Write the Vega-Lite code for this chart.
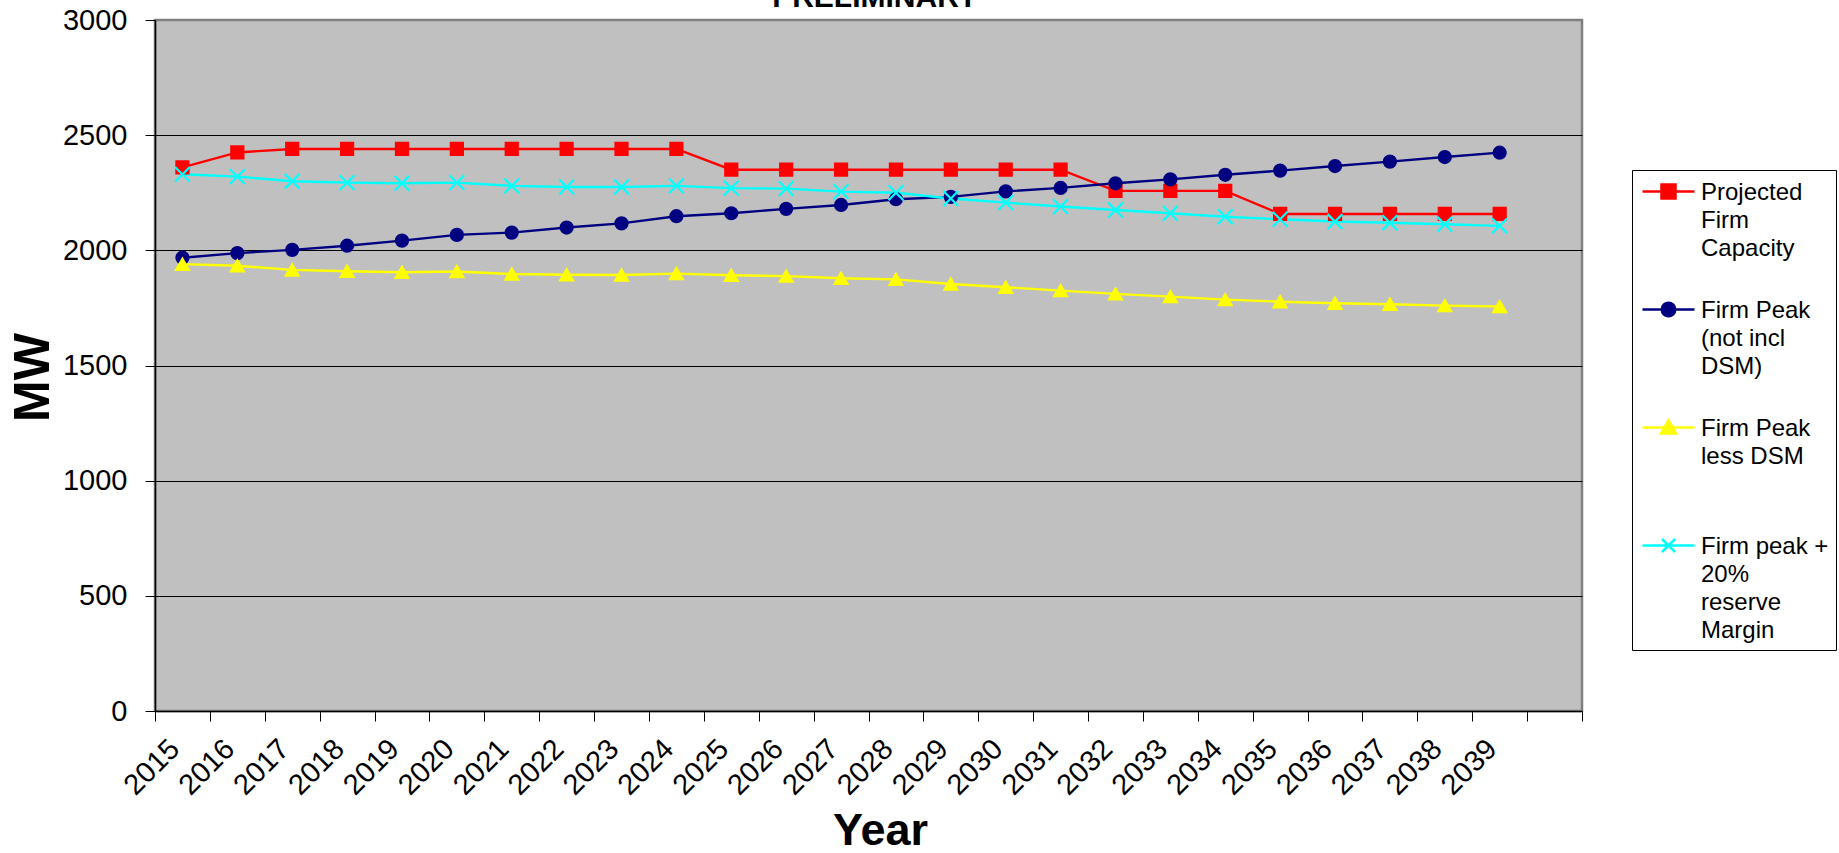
{
  "$schema": "https://vega.github.io/schema/vega-lite/v6.json",
  "autosize": "none",
  "width": 1427,
  "height": 691,
  "padding": {"left": 155, "top": 20, "right": 257, "bottom": 142},
  "background": "white",
  "config": {
    "view": {"fill": "#C0C0C0", "stroke": "#808080", "strokeWidth": 2.5},
    "font": "Liberation Sans"
  },
  "data": {
    "values": [
      {"year": "2015", "series": "Projected Firm Capacity", "mw": 2360},
      {"year": "2016", "series": "Projected Firm Capacity", "mw": 2425},
      {"year": "2017", "series": "Projected Firm Capacity", "mw": 2440},
      {"year": "2018", "series": "Projected Firm Capacity", "mw": 2440},
      {"year": "2019", "series": "Projected Firm Capacity", "mw": 2440},
      {"year": "2020", "series": "Projected Firm Capacity", "mw": 2440},
      {"year": "2021", "series": "Projected Firm Capacity", "mw": 2440},
      {"year": "2022", "series": "Projected Firm Capacity", "mw": 2440},
      {"year": "2023", "series": "Projected Firm Capacity", "mw": 2440},
      {"year": "2024", "series": "Projected Firm Capacity", "mw": 2440},
      {"year": "2025", "series": "Projected Firm Capacity", "mw": 2350},
      {"year": "2026", "series": "Projected Firm Capacity", "mw": 2350},
      {"year": "2027", "series": "Projected Firm Capacity", "mw": 2350},
      {"year": "2028", "series": "Projected Firm Capacity", "mw": 2350},
      {"year": "2029", "series": "Projected Firm Capacity", "mw": 2350},
      {"year": "2030", "series": "Projected Firm Capacity", "mw": 2350},
      {"year": "2031", "series": "Projected Firm Capacity", "mw": 2350},
      {"year": "2032", "series": "Projected Firm Capacity", "mw": 2258},
      {"year": "2033", "series": "Projected Firm Capacity", "mw": 2258},
      {"year": "2034", "series": "Projected Firm Capacity", "mw": 2258},
      {"year": "2035", "series": "Projected Firm Capacity", "mw": 2158},
      {"year": "2036", "series": "Projected Firm Capacity", "mw": 2158},
      {"year": "2037", "series": "Projected Firm Capacity", "mw": 2158},
      {"year": "2038", "series": "Projected Firm Capacity", "mw": 2158},
      {"year": "2039", "series": "Projected Firm Capacity", "mw": 2158},
      {"year": "2015", "series": "Firm Peak (not incl DSM)", "mw": 1968},
      {"year": "2016", "series": "Firm Peak (not incl DSM)", "mw": 1988},
      {"year": "2017", "series": "Firm Peak (not incl DSM)", "mw": 2002},
      {"year": "2018", "series": "Firm Peak (not incl DSM)", "mw": 2020},
      {"year": "2019", "series": "Firm Peak (not incl DSM)", "mw": 2042},
      {"year": "2020", "series": "Firm Peak (not incl DSM)", "mw": 2067},
      {"year": "2021", "series": "Firm Peak (not incl DSM)", "mw": 2077},
      {"year": "2022", "series": "Firm Peak (not incl DSM)", "mw": 2099},
      {"year": "2023", "series": "Firm Peak (not incl DSM)", "mw": 2117},
      {"year": "2024", "series": "Firm Peak (not incl DSM)", "mw": 2148},
      {"year": "2025", "series": "Firm Peak (not incl DSM)", "mw": 2161},
      {"year": "2026", "series": "Firm Peak (not incl DSM)", "mw": 2180},
      {"year": "2027", "series": "Firm Peak (not incl DSM)", "mw": 2197},
      {"year": "2028", "series": "Firm Peak (not incl DSM)", "mw": 2222},
      {"year": "2029", "series": "Firm Peak (not incl DSM)", "mw": 2232},
      {"year": "2030", "series": "Firm Peak (not incl DSM)", "mw": 2256},
      {"year": "2031", "series": "Firm Peak (not incl DSM)", "mw": 2271},
      {"year": "2032", "series": "Firm Peak (not incl DSM)", "mw": 2291},
      {"year": "2033", "series": "Firm Peak (not incl DSM)", "mw": 2308},
      {"year": "2034", "series": "Firm Peak (not incl DSM)", "mw": 2328},
      {"year": "2035", "series": "Firm Peak (not incl DSM)", "mw": 2346},
      {"year": "2036", "series": "Firm Peak (not incl DSM)", "mw": 2366},
      {"year": "2037", "series": "Firm Peak (not incl DSM)", "mw": 2385},
      {"year": "2038", "series": "Firm Peak (not incl DSM)", "mw": 2405},
      {"year": "2039", "series": "Firm Peak (not incl DSM)", "mw": 2424},
      {"year": "2015", "series": "Firm Peak less DSM", "mw": 1940},
      {"year": "2016", "series": "Firm Peak less DSM", "mw": 1933},
      {"year": "2017", "series": "Firm Peak less DSM", "mw": 1915},
      {"year": "2018", "series": "Firm Peak less DSM", "mw": 1909},
      {"year": "2019", "series": "Firm Peak less DSM", "mw": 1905},
      {"year": "2020", "series": "Firm Peak less DSM", "mw": 1908},
      {"year": "2021", "series": "Firm Peak less DSM", "mw": 1897},
      {"year": "2022", "series": "Firm Peak less DSM", "mw": 1894},
      {"year": "2023", "series": "Firm Peak less DSM", "mw": 1893},
      {"year": "2024", "series": "Firm Peak less DSM", "mw": 1899},
      {"year": "2025", "series": "Firm Peak less DSM", "mw": 1892},
      {"year": "2026", "series": "Firm Peak less DSM", "mw": 1888},
      {"year": "2027", "series": "Firm Peak less DSM", "mw": 1879},
      {"year": "2028", "series": "Firm Peak less DSM", "mw": 1874},
      {"year": "2029", "series": "Firm Peak less DSM", "mw": 1854},
      {"year": "2030", "series": "Firm Peak less DSM", "mw": 1840},
      {"year": "2031", "series": "Firm Peak less DSM", "mw": 1825},
      {"year": "2032", "series": "Firm Peak less DSM", "mw": 1811},
      {"year": "2033", "series": "Firm Peak less DSM", "mw": 1799},
      {"year": "2034", "series": "Firm Peak less DSM", "mw": 1786},
      {"year": "2035", "series": "Firm Peak less DSM", "mw": 1777},
      {"year": "2036", "series": "Firm Peak less DSM", "mw": 1770},
      {"year": "2037", "series": "Firm Peak less DSM", "mw": 1766},
      {"year": "2038", "series": "Firm Peak less DSM", "mw": 1760},
      {"year": "2039", "series": "Firm Peak less DSM", "mw": 1756},
      {"year": "2015", "series": "Firm peak + 20% reserve Margin", "mw": 2330},
      {"year": "2016", "series": "Firm peak + 20% reserve Margin", "mw": 2320},
      {"year": "2017", "series": "Firm peak + 20% reserve Margin", "mw": 2300},
      {"year": "2018", "series": "Firm peak + 20% reserve Margin", "mw": 2294},
      {"year": "2019", "series": "Firm peak + 20% reserve Margin", "mw": 2291},
      {"year": "2020", "series": "Firm peak + 20% reserve Margin", "mw": 2294},
      {"year": "2021", "series": "Firm peak + 20% reserve Margin", "mw": 2280},
      {"year": "2022", "series": "Firm peak + 20% reserve Margin", "mw": 2275},
      {"year": "2023", "series": "Firm peak + 20% reserve Margin", "mw": 2275},
      {"year": "2024", "series": "Firm peak + 20% reserve Margin", "mw": 2280},
      {"year": "2025", "series": "Firm peak + 20% reserve Margin", "mw": 2270},
      {"year": "2026", "series": "Firm peak + 20% reserve Margin", "mw": 2268},
      {"year": "2027", "series": "Firm peak + 20% reserve Margin", "mw": 2255},
      {"year": "2028", "series": "Firm peak + 20% reserve Margin", "mw": 2250},
      {"year": "2029", "series": "Firm peak + 20% reserve Margin", "mw": 2225},
      {"year": "2030", "series": "Firm peak + 20% reserve Margin", "mw": 2207},
      {"year": "2031", "series": "Firm peak + 20% reserve Margin", "mw": 2190},
      {"year": "2032", "series": "Firm peak + 20% reserve Margin", "mw": 2175},
      {"year": "2033", "series": "Firm peak + 20% reserve Margin", "mw": 2161},
      {"year": "2034", "series": "Firm peak + 20% reserve Margin", "mw": 2146},
      {"year": "2035", "series": "Firm peak + 20% reserve Margin", "mw": 2135},
      {"year": "2036", "series": "Firm peak + 20% reserve Margin", "mw": 2125},
      {"year": "2037", "series": "Firm peak + 20% reserve Margin", "mw": 2120},
      {"year": "2038", "series": "Firm peak + 20% reserve Margin", "mw": 2113},
      {"year": "2039", "series": "Firm peak + 20% reserve Margin", "mw": 2106}
    ]
  },
  "encoding": {
    "x": {
      "field": "year",
      "type": "ordinal",
      "title": "Year",
      "scale": {
        "type": "band",
        "paddingInner": 0,
        "paddingOuter": 0,
        "domain": ["2015","2016","2017","2018","2019","2020","2021","2022","2023","2024","2025","2026","2027","2028","2029","2030","2031","2032","2033","2034","2035","2036","2037","2038","2039","2040"]
      },
      "axis": {
        "tickBand": "extent",
        "labelExpr": "datum.value == '2040' ? '' : datum.label",
        "labelAngle": -45,
        "labelAlign": "right",
        "labelBaseline": "top",
        "labelFont": "Liberation Sans",
        "labelFontSize": 29,
        "labelColor": "black",
        "labelPadding": 13,
        "labelOffset": -18,
        "labelOverlap": false,
        "tickColor": "black",
        "tickSize": 10,
        "domainColor": "black",
        "domainWidth": 1.5,
        "grid": false,
        "titleFont": "Liberation Sans",
        "titleFontSize": 45,
        "titleFontWeight": "bold",
        "titleColor": "black",
        "titlePadding": 8,
        "titleX": 725
      }
    },
    "y": {
      "field": "mw",
      "type": "quantitative",
      "title": "MW",
      "scale": {"domain": [0, 3000], "nice": false, "zero": true},
      "axis": {
        "values": [0, 500, 1000, 1500, 2000, 2500, 3000],
        "format": "d",
        "labelFont": "Liberation Sans",
        "labelFontSize": 29,
        "labelColor": "black",
        "labelPadding": 18,
        "tickColor": "black",
        "tickSize": 10,
        "domainColor": "black",
        "domainWidth": 1.5,
        "grid": true,
        "gridColor": {"condition": {"test": "datum.value == 3000", "value": "#808080"}, "value": "black"},
        "gridWidth": 1,
        "titleFont": "Liberation Sans",
        "titleFontSize": 50,
        "titleFontWeight": "bold",
        "titleColor": "black",
        "titlePadding": 4,
        "titleY": 357
      }
    },
    "color": {
      "field": "series",
      "type": "nominal",
      "title": null,
      "scale": {
        "domain": ["Projected Firm Capacity", "Firm Peak (not incl DSM)", "Firm Peak less DSM", "Firm peak + 20% reserve Margin"],
        "range": ["#FF0000", "#000080", "#FFFF00", "#00FFFF"]
      },
      "legend": {
        "orient": "none",
        "legendX": 1477,
        "legendY": 150,
        "padding": 7,
        "strokeColor": "black",
        "fillColor": "white",
        "cornerRadius": 0,
        "symbolSize": 676,
        "symbolOffset": 15,
        "symbolStrokeWidth": 2.5,
        "labelFont": "Liberation Sans",
        "labelFontSize": 24,
        "labelColor": "black",
        "labelLimit": 400,
        "labelOffset": 18,
        "labelBaseline": "top",
        "rowPadding": 6,
        "labelExpr": "datum.label == 'Projected Firm Capacity' ? ['Projected','Firm','Capacity',''] : datum.label == 'Firm Peak (not incl DSM)' ? ['Firm Peak','(not incl','DSM)',''] : datum.label == 'Firm Peak less DSM' ? ['Firm Peak','less DSM','',''] : ['Firm peak +','20%','reserve','Margin']",
        "encode": {
          "labels": {"update": {"dy": {"value": -11}, "lineHeight": {"value": 28}}},
          "symbols": {
            "update": {
              "shape": {"signal": "datum.value == 'Projected Firm Capacity' ? 'M-2,0H2M-0.54,-0.54H0.54V0.54H-0.54Z' : datum.value == 'Firm Peak (not incl DSM)' ? 'M-2,0H2M0.52,0A0.52,0.52,0,1,1,-0.52,0A0.52,0.52,0,1,1,0.52,0Z' : datum.value == 'Firm Peak less DSM' ? 'M-2,0H2M0,-0.56L0.58,0.46H-0.58Z' : 'M-2,0H2M-0.5,-0.5L0.5,0.5M-0.5,0.5L0.5,-0.5'"},
              "stroke": {"scale": "color", "field": "value"},
              "fill": {"scale": "color", "field": "value"},
              "fillOpacity": {"value": 1},
              "strokeWidth": {"value": 2.5},
              "size": {"value": 676}
            }
          }
        }
      }
    }
  },
  "layer": [
    {
      "mark": {"type": "line", "strokeWidth": 2.4},
      "encoding": {}
    },
    {
      "transform": [{"filter": {"field": "series", "equal": "Projected Firm Capacity"}}],
      "mark": {"type": "point", "filled": true, "opacity": 1, "shape": "square", "size": 150, "stroke": "#FF0000", "strokeWidth": 2}
    },
    {
      "transform": [{"filter": {"field": "series", "equal": "Firm Peak (not incl DSM)"}}],
      "mark": {"type": "point", "filled": true, "opacity": 1, "shape": "circle", "size": 150, "stroke": "#000080", "strokeWidth": 2}
    },
    {
      "transform": [{"filter": {"field": "series", "equal": "Firm Peak less DSM"}}],
      "mark": {"type": "point", "filled": true, "opacity": 1, "shape": "triangle-up", "size": 175, "stroke": "#FFFF00", "strokeWidth": 2}
    },
    {
      "transform": [{"filter": {"field": "series", "equal": "Firm peak + 20% reserve Margin"}}],
      "mark": {"type": "point", "filled": false, "opacity": 1, "shape": "M-1,-1L1,1M-1,1L1,-1", "size": 220, "strokeWidth": 2.2}
    },
    {
      "data": {"values": [{"heading": "PRELIMINARY", "year": "2028", "mw": 3000}]},
      "mark": {"type": "text", "clip": false, "font": "Liberation Sans", "fontSize": 30, "fontWeight": "bold", "align": "center", "baseline": "bottom", "dx": -21, "dy": -7, "fill": "black"},
      "encoding": {
        "text": {"field": "heading", "type": "nominal"},
        "color": {"value": "black"}
      }
    }
  ]
}
